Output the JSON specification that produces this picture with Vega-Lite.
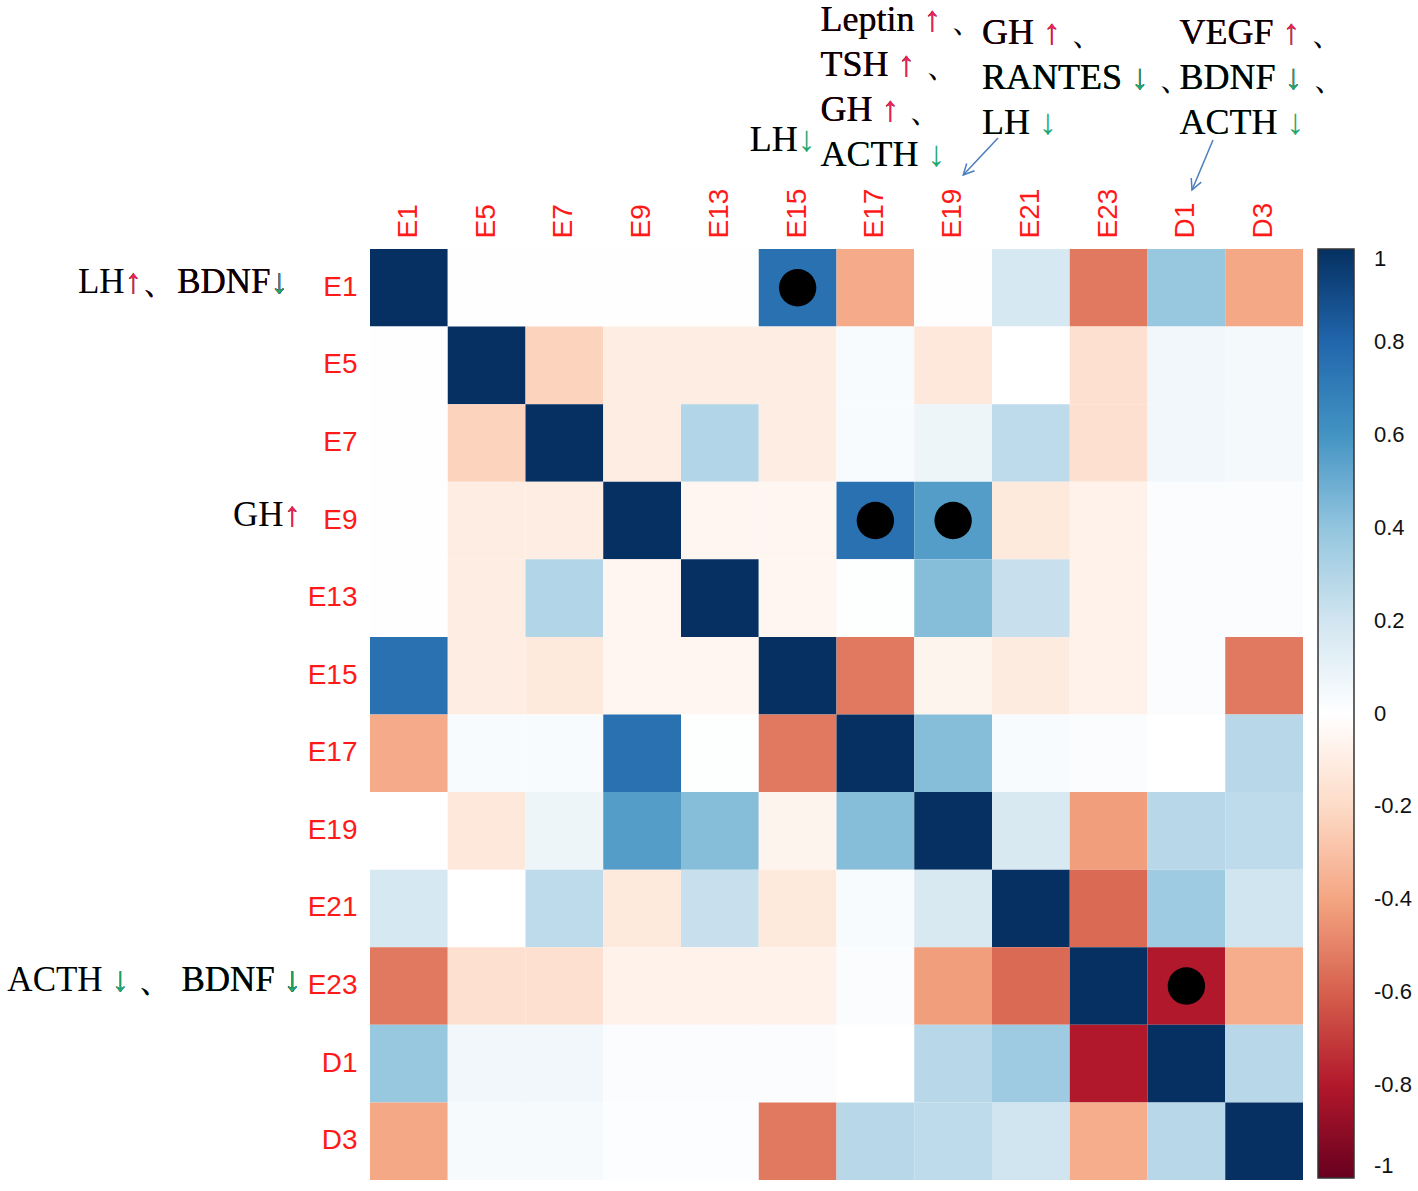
{
  "$schema": "https://vega.github.io/schema/vega-lite/v6.json",
  "padding": 0,
  "background": "white",
  "config": {"view": {"stroke": null}},
  "columns": 2,
  "bounds": "flush",
  "align": "each",
  "spacing": {"row": 69, "column": 70},
  "resolve": {"scale": {"x": "independent", "y": "independent", "color": "independent"}, "legend": {"color": "independent"}},
  "concat": [
    {
      "width": 300, "height": 180,
      "data": {"values": [{"t": ""}]},
      "mark": {"type": "text"},
      "encoding": {"text": {"field": "t"}}
    },
    {
      "width": 933, "height": 180,
      "data": {"values": [
        {"g":"g1","col":"E17","line":1,"t":"Leptin ↑ 、","k":"k","o":1},
        {"g":"g1","col":"E17","line":1,"t":"Leptin ↑","k":"up","o":2},
        {"g":"g1","col":"E17","line":1,"t":"Leptin","k":"k","o":3},
        {"g":"g1","col":"E17","line":2,"t":"TSH ↑ 、","k":"k","o":1},
        {"g":"g1","col":"E17","line":2,"t":"TSH ↑","k":"up","o":2},
        {"g":"g1","col":"E17","line":2,"t":"TSH","k":"k","o":3},
        {"g":"g1","col":"E17","line":3,"t":"GH ↑ 、","k":"k","o":1},
        {"g":"g1","col":"E17","line":3,"t":"GH ↑","k":"up","o":2},
        {"g":"g1","col":"E17","line":3,"t":"GH","k":"k","o":3},
        {"g":"g1","col":"E17","line":4,"t":"ACTH ↓","k":"dn","o":1},
        {"g":"g1","col":"E17","line":4,"t":"ACTH","k":"k","o":2},
        {"g":"g2","col":"E21","line":1,"t":"GH ↑  、","k":"k","o":1},
        {"g":"g2","col":"E21","line":1,"t":"GH ↑","k":"up","o":2},
        {"g":"g2","col":"E21","line":1,"t":"GH","k":"k","o":3},
        {"g":"g2","col":"E21","line":2,"t":"RANTES ↓ 、","k":"k","o":1},
        {"g":"g2","col":"E21","line":2,"t":"RANTES ↓","k":"dn","o":2},
        {"g":"g2","col":"E21","line":2,"t":"RANTES","k":"k","o":3},
        {"g":"g2","col":"E21","line":3,"t":"LH ↓","k":"dn","o":1},
        {"g":"g2","col":"E21","line":3,"t":"LH","k":"k","o":2},
        {"g":"g3","col":"D1","line":1,"t":"VEGF ↑ 、","k":"k","o":1},
        {"g":"g3","col":"D1","line":1,"t":"VEGF ↑","k":"up","o":2},
        {"g":"g3","col":"D1","line":1,"t":"VEGF","k":"k","o":3},
        {"g":"g3","col":"D1","line":2,"t":"BDNF ↓ 、","k":"k","o":1},
        {"g":"g3","col":"D1","line":2,"t":"BDNF ↓","k":"dn","o":2},
        {"g":"g3","col":"D1","line":2,"t":"BDNF","k":"k","o":3},
        {"g":"g3","col":"D1","line":3,"t":"ACTH ↓","k":"dn","o":1},
        {"g":"g3","col":"D1","line":3,"t":"ACTH","k":"k","o":2},
        {"g":"g4","col":"E15","line":4,"t":"LH↓","k":"dn","o":1},
        {"g":"g4","col":"E15","line":4,"t":"LH","k":"k","o":2},
        {"g":"a1","col":"E21","col2":"E19","line":3,"line2":4},
        {"g":"a2","col":"D1","col2":"D1","line":3,"line2":4}
      ]},
      "encoding": {
        "x": {"field": "col", "type": "nominal", "bandPosition": 0,
              "scale": {"type": "band", "domain": ["E1","E5","E7","E9","E13","E15","E17","E19","E21","E23","D1","D3"], "paddingInner": 0, "paddingOuter": 0},
              "axis": null},
        "y": {"field": "line", "type": "ordinal", "scale": {"type": "point", "domain": [1,2,3,4], "padding": 0.5}, "axis": null}
      },
      "layer": [
        {
          "transform": [{"filter": "datum.g == 'g1'"}],
          "mark": {"type": "text", "align": "left", "baseline": "middle", "font": "Liberation Serif", "fontSize": 36, "dx": -16, "dy": -3},
          "encoding": {
            "text": {"field": "t"},
            "color": {"field": "k", "type": "nominal", "scale": {"domain": ["k","up","dn"], "range": ["#000000","#ee2255","#1fa870"]}, "legend": null},
            "order": {"field": "o", "type": "quantitative"}
          }
        },
        {
          "transform": [{"filter": "datum.g == 'g2'"}],
          "mark": {"type": "text", "align": "left", "baseline": "middle", "font": "Liberation Serif", "fontSize": 36, "dx": -10, "dy": 10.5},
          "encoding": {
            "text": {"field": "t"},
            "color": {"field": "k", "type": "nominal", "scale": {"domain": ["k","up","dn"], "range": ["#000000","#ee2255","#1fa870"]}, "legend": null},
            "order": {"field": "o", "type": "quantitative"}
          }
        },
        {
          "transform": [{"filter": "datum.g == 'g3'"}],
          "mark": {"type": "text", "align": "left", "baseline": "middle", "font": "Liberation Serif", "fontSize": 36, "dx": 32, "dy": 10.5},
          "encoding": {
            "text": {"field": "t"},
            "color": {"field": "k", "type": "nominal", "scale": {"domain": ["k","up","dn"], "range": ["#000000","#ee2255","#1fa870"]}, "legend": null},
            "order": {"field": "o", "type": "quantitative"}
          }
        },
        {
          "transform": [{"filter": "datum.g == 'g4'"}],
          "mark": {"type": "text", "align": "left", "baseline": "middle", "font": "Liberation Serif", "fontSize": 36, "dx": -9, "dy": -17.5},
          "encoding": {
            "text": {"field": "t"},
            "color": {"field": "k", "type": "nominal", "scale": {"domain": ["k","up","dn"], "range": ["#000000","#ee2255","#1fa870"]}, "legend": null},
            "order": {"field": "o", "type": "quantitative"}
          }
        },
        {
          "transform": [{"filter": "datum.g == 'a1'"}],
          "mark": {"type": "rule", "color": "#4a7ebb", "strokeWidth": 1.5, "xOffset": 6, "x2Offset": 49, "yOffset": 25.5, "y2Offset": 17.5},
          "encoding": {
            "x2": {"field": "col2", "bandPosition": 0},
            "y2": {"field": "line2"}
          }
        },
        {
          "transform": [{"filter": "datum.g == 'a1'"}],
          "mark": {"type": "point", "shape": "M-0.45,-0.9L0,0L0.45,-0.9", "size": 576, "filled": false, "stroke": "#4a7ebb", "strokeWidth": 1.5, "opacity": 1, "angle": 43, "xOffset": 49, "yOffset": 17.5},
          "encoding": {
            "x": {"field": "col2", "type": "nominal", "bandPosition": 0},
            "y": {"field": "line2", "type": "ordinal"}
          }
        },
        {
          "transform": [{"filter": "datum.g == 'a2'"}],
          "mark": {"type": "rule", "color": "#4a7ebb", "strokeWidth": 1.5, "xOffset": 65.5, "x2Offset": 44.5, "yOffset": 27.5, "y2Offset": 32.5},
          "encoding": {
            "x2": {"field": "col2", "bandPosition": 0},
            "y2": {"field": "line2"}
          }
        },
        {
          "transform": [{"filter": "datum.g == 'a2'"}],
          "mark": {"type": "point", "shape": "M-0.45,-0.9L0,0L0.45,-0.9", "size": 576, "filled": false, "stroke": "#4a7ebb", "strokeWidth": 1.5, "opacity": 1, "angle": 23, "xOffset": 44.5, "yOffset": 32.5},
          "encoding": {
            "x": {"field": "col2", "type": "nominal", "bandPosition": 0},
            "y": {"field": "line2", "type": "ordinal"}
          }
        }
      ]
    },
    {
      "width": 300, "height": 931,
      "data": {"values": [
        {"g":"l1","r":"E1","t":"LH↑、BDNF↓","k":"k","o":1},
        {"g":"l1","r":"E1","t":"↑、BDNF↓","k":"up","o":2},
        {"g":"l1","r":"E1","t":"、BDNF↓","k":"k","o":3},
        {"g":"l1","r":"E1","t":"↓","k":"dn","o":4},
        {"g":"l2","r":"E9","t":"GH↑","k":"k","o":1},
        {"g":"l2","r":"E9","t":"↑","k":"up","o":2},
        {"g":"l2","r":"E23","t":"ACTH ↓ 、 BDNF ↓","k":"k","o":1},
        {"g":"l2","r":"E23","t":"↓ 、 BDNF ↓","k":"dn","o":2},
        {"g":"l2","r":"E23","t":"、 BDNF ↓","k":"k","o":3},
        {"g":"l2","r":"E23","t":"↓","k":"dn","o":4}
      ]},
      "encoding": {
        "y": {"field": "r", "type": "nominal", "scale": {"type": "band", "domain": ["E1","E5","E7","E9","E13","E15","E17","E19","E21","E23","D1","D3"], "paddingInner": 0, "paddingOuter": 0}, "axis": null},
        "text": {"field": "t"},
        "color": {"field": "k", "type": "nominal", "scale": {"domain": ["k","up","dn"], "range": ["#000000","#ee2255","#1fa870"]}, "legend": null},
        "order": {"field": "o", "type": "quantitative"}
      },
      "layer": [
        {
          "transform": [{"filter": "datum.g == 'l1'"}],
          "mark": {"type": "text", "x": "width", "align": "right", "baseline": "middle", "font": "Liberation Serif", "fontSize": 35, "dx": -12, "dy": -6}
        },
        {
          "transform": [{"filter": "datum.g == 'l2'"}],
          "mark": {"type": "text", "x": "width", "align": "right", "baseline": "middle", "font": "Liberation Serif", "fontSize": 35, "dx": 1, "dy": -6}
        }
      ]
    },
    {
      "width": 933, "height": 931,
      "data": {"values": [
        {"r":"E1","c":"E1","v":1},{"r":"E1","c":"E5","v":-0.005},{"r":"E1","c":"E7","v":-0.005},{"r":"E1","c":"E9","v":-0.005},{"r":"E1","c":"E13","v":-0.005},{"r":"E1","c":"E15","v":0.75,"s":1},{"r":"E1","c":"E17","v":-0.38},{"r":"E1","c":"E19","v":-0.005},{"r":"E1","c":"E21","v":0.18},{"r":"E1","c":"E23","v":-0.53},{"r":"E1","c":"D1","v":0.38},{"r":"E1","c":"D3","v":-0.39},
        {"r":"E5","c":"E1","v":-0.005},{"r":"E5","c":"E5","v":1},{"r":"E5","c":"E7","v":-0.23},{"r":"E5","c":"E9","v":-0.1},{"r":"E5","c":"E13","v":-0.1},{"r":"E5","c":"E15","v":-0.1},{"r":"E5","c":"E17","v":0.03},{"r":"E5","c":"E19","v":-0.13},{"r":"E5","c":"E21","v":0},{"r":"E5","c":"E23","v":-0.17},{"r":"E5","c":"D1","v":0.06},{"r":"E5","c":"D3","v":0.05},
        {"r":"E7","c":"E1","v":-0.005},{"r":"E7","c":"E5","v":-0.23},{"r":"E7","c":"E7","v":1},{"r":"E7","c":"E9","v":-0.1},{"r":"E7","c":"E13","v":0.3},{"r":"E7","c":"E15","v":-0.1},{"r":"E7","c":"E17","v":0.03},{"r":"E7","c":"E19","v":0.075},{"r":"E7","c":"E21","v":0.26},{"r":"E7","c":"E23","v":-0.17},{"r":"E7","c":"D1","v":0.06},{"r":"E7","c":"D3","v":0.05},
        {"r":"E9","c":"E1","v":-0.005},{"r":"E9","c":"E5","v":-0.1},{"r":"E9","c":"E7","v":-0.1},{"r":"E9","c":"E9","v":1},{"r":"E9","c":"E13","v":-0.05},{"r":"E9","c":"E15","v":-0.05},{"r":"E9","c":"E17","v":0.75,"s":1},{"r":"E9","c":"E19","v":0.56,"s":1},{"r":"E9","c":"E21","v":-0.12},{"r":"E9","c":"E23","v":-0.07},{"r":"E9","c":"D1","v":0.02},{"r":"E9","c":"D3","v":0.02},
        {"r":"E13","c":"E1","v":-0.005},{"r":"E13","c":"E5","v":-0.1},{"r":"E13","c":"E7","v":0.3},{"r":"E13","c":"E9","v":-0.05},{"r":"E13","c":"E13","v":1},{"r":"E13","c":"E15","v":-0.05},{"r":"E13","c":"E17","v":0.01},{"r":"E13","c":"E19","v":0.43},{"r":"E13","c":"E21","v":0.23},{"r":"E13","c":"E23","v":-0.07},{"r":"E13","c":"D1","v":0.02},{"r":"E13","c":"D3","v":0.02},
        {"r":"E15","c":"E1","v":0.75},{"r":"E15","c":"E5","v":-0.1},{"r":"E15","c":"E7","v":-0.12},{"r":"E15","c":"E9","v":-0.05},{"r":"E15","c":"E13","v":-0.05},{"r":"E15","c":"E15","v":1},{"r":"E15","c":"E17","v":-0.53},{"r":"E15","c":"E19","v":-0.06},{"r":"E15","c":"E21","v":-0.11},{"r":"E15","c":"E23","v":-0.07},{"r":"E15","c":"D1","v":0.02},{"r":"E15","c":"D3","v":-0.53},
        {"r":"E17","c":"E1","v":-0.38},{"r":"E17","c":"E5","v":0.03},{"r":"E17","c":"E7","v":0.03},{"r":"E17","c":"E9","v":0.75},{"r":"E17","c":"E13","v":0.01},{"r":"E17","c":"E15","v":-0.53},{"r":"E17","c":"E17","v":1},{"r":"E17","c":"E19","v":0.43},{"r":"E17","c":"E21","v":0.03},{"r":"E17","c":"E23","v":0.02},{"r":"E17","c":"D1","v":0},{"r":"E17","c":"D3","v":0.28},
        {"r":"E19","c":"E1","v":0},{"r":"E19","c":"E5","v":-0.13},{"r":"E19","c":"E7","v":0.075},{"r":"E19","c":"E9","v":0.56},{"r":"E19","c":"E13","v":0.43},{"r":"E19","c":"E15","v":-0.06},{"r":"E19","c":"E17","v":0.43},{"r":"E19","c":"E19","v":1},{"r":"E19","c":"E21","v":0.17},{"r":"E19","c":"E23","v":-0.42},{"r":"E19","c":"D1","v":0.28},{"r":"E19","c":"D3","v":0.26},
        {"r":"E21","c":"E1","v":0.18},{"r":"E21","c":"E5","v":0},{"r":"E21","c":"E7","v":0.26},{"r":"E21","c":"E9","v":-0.12},{"r":"E21","c":"E13","v":0.23},{"r":"E21","c":"E15","v":-0.12},{"r":"E21","c":"E17","v":0.03},{"r":"E21","c":"E19","v":0.17},{"r":"E21","c":"E21","v":1},{"r":"E21","c":"E23","v":-0.57},{"r":"E21","c":"D1","v":0.36},{"r":"E21","c":"D3","v":0.2},
        {"r":"E23","c":"E1","v":-0.53},{"r":"E23","c":"E5","v":-0.17},{"r":"E23","c":"E7","v":-0.17},{"r":"E23","c":"E9","v":-0.07},{"r":"E23","c":"E13","v":-0.07},{"r":"E23","c":"E15","v":-0.07},{"r":"E23","c":"E17","v":0.02},{"r":"E23","c":"E19","v":-0.42},{"r":"E23","c":"E21","v":-0.57},{"r":"E23","c":"E23","v":1},{"r":"E23","c":"D1","v":-0.8,"s":1},{"r":"E23","c":"D3","v":-0.37},
        {"r":"D1","c":"E1","v":0.38},{"r":"D1","c":"E5","v":0.06},{"r":"D1","c":"E7","v":0.06},{"r":"D1","c":"E9","v":0.02},{"r":"D1","c":"E13","v":0.02},{"r":"D1","c":"E15","v":0.02},{"r":"D1","c":"E17","v":0},{"r":"D1","c":"E19","v":0.28},{"r":"D1","c":"E21","v":0.36},{"r":"D1","c":"E23","v":-0.8},{"r":"D1","c":"D1","v":1},{"r":"D1","c":"D3","v":0.28},
        {"r":"D3","c":"E1","v":-0.39},{"r":"D3","c":"E5","v":0.04},{"r":"D3","c":"E7","v":0.04},{"r":"D3","c":"E9","v":0.015},{"r":"D3","c":"E13","v":0.015},{"r":"D3","c":"E15","v":-0.53},{"r":"D3","c":"E17","v":0.28},{"r":"D3","c":"E19","v":0.26},{"r":"D3","c":"E21","v":0.2},{"r":"D3","c":"E23","v":-0.37},{"r":"D3","c":"D1","v":0.28},{"r":"D3","c":"D3","v":1}
      ]},
      "encoding": {
        "x": {"field": "c", "type": "nominal",
              "scale": {"type": "band", "domain": ["E1","E5","E7","E9","E13","E15","E17","E19","E21","E23","D1","D3"], "paddingInner": 0, "paddingOuter": 0},
              "axis": {"orient": "top", "title": null, "labelAngle": -90, "domain": false, "ticks": false, "labelPadding": 11, "labelFont": "Liberation Sans", "labelFontSize": 28, "labelColor": "#ff1a1a"}},
        "y": {"field": "r", "type": "nominal",
              "scale": {"type": "band", "domain": ["E1","E5","E7","E9","E13","E15","E17","E19","E21","E23","D1","D3"], "paddingInner": 0, "paddingOuter": 0},
              "axis": {"title": null, "domain": false, "ticks": false, "labelPadding": 13, "labelFont": "Liberation Sans", "labelFontSize": 28, "labelColor": "#ff1a1a"}}
      },
      "layer": [
        {
          "mark": {"type": "rect"},
          "encoding": {
            "color": {"field": "v", "type": "quantitative",
                      "scale": {"domain": [-1,-0.8,-0.6,-0.4,-0.2,0,0.2,0.4,0.6,0.8,1], "range": ["#67001f","#b2182b","#d6604d","#f4a582","#fddbc7","#ffffff","#d1e5f0","#92c5de","#4393c3","#2166ac","#053061"], "interpolate": "rgb"},
                      "legend": {"title": null, "orient": "right", "offset": 15, "direction": "vertical", "gradientLength": 929, "gradientThickness": 36, "gradientStrokeColor": "#333333", "gradientStrokeWidth": 1.5, "values": [1,0.8,0.6,0.4,0.2,0,-0.2,-0.4,-0.6,-0.8,-1],
                                 "labelExpr": "replace(format(datum.value, '.1~f'), '\u2212', '-')",
                                 "labelFont": "Liberation Sans", "labelFontSize": 22, "labelColor": "#111111", "labelOffset": 20, "labelOverlap": false, "padding": 0}}
          }
        },
        {
          "transform": [{"filter": "datum.s == 1"}],
          "mark": {"type": "circle", "size": 1400, "color": "#000000", "opacity": 1},
          "encoding": {}
        }
      ]
    }
  ]
}
